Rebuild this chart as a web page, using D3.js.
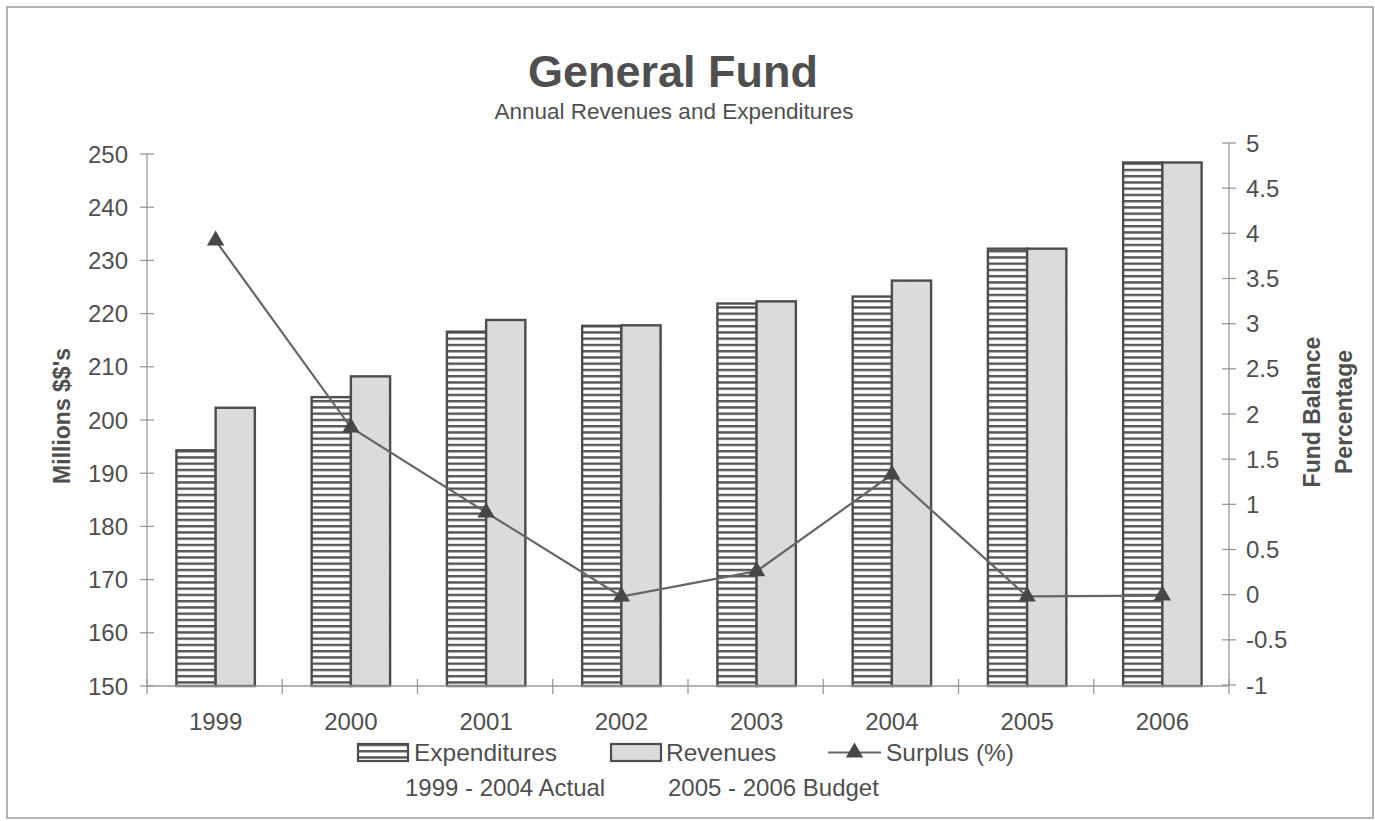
<!DOCTYPE html>
<html>
<head>
<meta charset="utf-8">
<script src="https://cdn.jsdelivr.net/npm/d3@7"></script>
<style>
  html, body { margin: 0; padding: 0; background: #fff; }
  svg { display: block; font-family: "Liberation Sans", Arial, sans-serif; }
</style>
</head>
<body>
<svg id="chart" width="1375" height="821"></svg>
<script>
// General Fund: annual revenues and expenditures (millions) with surplus percentage
const years = ["1999", "2000", "2001", "2002", "2003", "2004", "2005", "2006"];
const expenditures = [194.3, 204.3, 216.6, 217.7, 221.9, 223.2, 232.2, 248.4];
const revenues = [202.3, 208.2, 218.8, 217.8, 222.3, 226.2, 232.2, 248.4];
const surplus = [3.92, 1.85, 0.91, -0.02, 0.26, 1.33, -0.02, -0.01];
const leftTicks = [150, 160, 170, 180, 190, 200, 210, 220, 230, 240, 250];
const rightTicks = [-1, -0.5, 0, 0.5, 1, 1.5, 2, 2.5, 3, 3.5, 4, 4.5, 5];

const ink = "#4f4f4f";
const axisColor = "#9a9a9a";
const barEdge = "#4d4d4d";
const svg = d3.select("#chart");

// frame
svg.append("rect").attr("x", 7).attr("y", 7).attr("width", 1366).attr("height", 811)
  .attr("fill", "#fff").attr("stroke", "#9a9a9a").attr("stroke-width", 1.5);

// patterns
const defs = svg.append("defs");
const hatch = defs.append("pattern").attr("id", "hatch")
  .attr("patternUnits", "userSpaceOnUse").attr("width", 10).attr("height", 6.25);
hatch.append("rect").attr("width", 10).attr("height", 6.25).attr("fill", "#fff");
hatch.append("rect").attr("y", 0).attr("width", 10).attr("height", 2.4).attr("fill", "#555");

const grain = defs.append("filter").attr("id", "grain").attr("x", 0).attr("y", 0).attr("width", 1).attr("height", 1);
grain.append("feTurbulence").attr("type", "fractalNoise").attr("baseFrequency", 0.9).attr("numOctaves", 1).attr("seed", 3).attr("result", "n");
grain.append("feColorMatrix").attr("in", "n").attr("type", "matrix")
  .attr("values", "0 0 0 0 0.8  0 0 0 0 0.8  0 0 0 0 0.8  0 0 0 0.35 0").attr("result", "g");
grain.append("feComposite").attr("in", "g").attr("in2", "SourceGraphic").attr("operator", "in").attr("result", "gc");
const gm = grain.append("feMerge");
gm.append("feMergeNode").attr("in", "SourceGraphic");
gm.append("feMergeNode").attr("in", "gc");

// scales
const plotLeft = 147, plotRight = 1229;
const x = d3.scaleBand().domain(years).range([plotLeft, plotRight]).padding(0);
const groupW = x.bandwidth() * 0.58;
const xSub = d3.scaleBand().domain(["exp", "rev"]).range([0, groupW]).padding(0);
const yL = d3.scaleLinear().domain([150, 250]).range([686, 154]);
const yR = d3.scaleLinear().domain([-1, 5]).range([685, 143]);

// title
svg.append("text").attr("x", 673).attr("y", 87).attr("text-anchor", "middle")
  .attr("font-size", 45).attr("font-weight", "bold").attr("fill", ink).text("General Fund");
svg.append("text").attr("x", 674).attr("y", 119).attr("text-anchor", "middle")
  .attr("font-size", 22.5).attr("fill", ink).text("Annual Revenues and Expenditures");

// bars
const groups = svg.append("g").selectAll("g").data(years).join("g")
  .attr("transform", d => `translate(${x(d) + (x.bandwidth() - groupW) / 2 + 1},0)`);
groups.append("rect")
  .attr("x", xSub("exp")).attr("width", xSub.bandwidth())
  .attr("y", (d, i) => yL(expenditures[i])).attr("height", (d, i) => yL(150) - yL(expenditures[i]))
  .attr("fill", "url(#hatch)").attr("stroke", barEdge).attr("stroke-width", 2.4);
groups.append("rect")
  .attr("x", xSub("rev")).attr("width", xSub.bandwidth())
  .attr("y", (d, i) => yL(revenues[i])).attr("height", (d, i) => yL(150) - yL(revenues[i]))
  .attr("fill", "#d9d9d9").attr("filter", "url(#grain)");
groups.append("rect")
  .attr("x", xSub("rev")).attr("width", xSub.bandwidth())
  .attr("y", (d, i) => yL(revenues[i])).attr("height", (d, i) => yL(150) - yL(revenues[i]))
  .attr("fill", "none").attr("stroke", barEdge).attr("stroke-width", 2.4);

// axes
const axG = svg.append("g").attr("stroke", axisColor).attr("stroke-width", 1.3);
axG.append("line").attr("x1", plotLeft).attr("x2", plotLeft).attr("y1", yL(250)).attr("y2", yL(150));
axG.append("line").attr("x1", plotRight).attr("x2", plotRight).attr("y1", yR(5)).attr("y2", yR(-1));
axG.append("line").attr("x1", plotLeft).attr("x2", plotRight).attr("y1", yL(150)).attr("y2", yL(150));
axG.selectAll(".lt").data(leftTicks).join("line")
  .attr("x1", plotLeft - 7).attr("x2", plotLeft + 7).attr("y1", d => yL(d)).attr("y2", d => yL(d));
axG.selectAll(".rt").data(rightTicks).join("line")
  .attr("x1", plotRight - 7).attr("x2", plotRight + 7).attr("y1", d => yR(d)).attr("y2", d => yR(d));
const bounds = years.map(d => x(d)).concat([plotRight]);
axG.selectAll(".xt").data(bounds).join("line")
  .attr("x1", d => d).attr("x2", d => d).attr("y1", yL(150) - 7).attr("y2", yL(150) + 8);

// tick labels
svg.append("g").selectAll("text").data(leftTicks).join("text")
  .attr("x", 128).attr("y", d => yL(d)).attr("dy", "0.36em").attr("text-anchor", "end")
  .attr("font-size", 24).attr("fill", ink).text(d => d);
svg.append("g").selectAll("text").data(rightTicks).join("text")
  .attr("x", 1246).attr("y", d => yR(d)).attr("dy", "0.36em").attr("text-anchor", "start")
  .attr("font-size", 24).attr("fill", ink).text(d => d);
svg.append("g").selectAll("text").data(years).join("text")
  .attr("x", d => x(d) + x.bandwidth() / 2 + 1).attr("y", 730).attr("text-anchor", "middle")
  .attr("font-size", 24).attr("fill", ink).text(d => d);

// axis titles
svg.append("text").attr("transform", "translate(70,416) rotate(-90)").attr("text-anchor", "middle")
  .attr("font-size", 23).attr("font-weight", "bold").attr("fill", ink).text("Millions $$'s");
svg.append("text").attr("transform", "translate(1320,412) rotate(-90)").attr("text-anchor", "middle")
  .attr("font-size", 23).attr("font-weight", "bold").attr("fill", ink).text("Fund Balance");
svg.append("text").attr("transform", "translate(1352,412) rotate(-90)").attr("text-anchor", "middle")
  .attr("font-size", 23).attr("font-weight", "bold").attr("fill", ink).text("Percentage");

// surplus line
const cx = d => x(d) + x.bandwidth() / 2 + 1;
const line = d3.line().x((d, i) => cx(years[i])).y(d => yR(d));
svg.append("path").datum(surplus).attr("d", line).attr("fill", "none")
  .attr("stroke", "#666").attr("stroke-width", 2.2);
const tri = d3.symbol().type(d3.symbolTriangle).size(130);
svg.append("g").selectAll("path").data(surplus).join("path")
  .attr("d", tri).attr("transform", (d, i) => `translate(${cx(years[i])},${yR(d)})`)
  .attr("fill", "#474747");

// legend
const lg = svg.append("g");
lg.append("rect").attr("x", 358).attr("y", 744).attr("width", 50).attr("height", 17)
  .attr("fill", "url(#hatch)").attr("stroke", barEdge).attr("stroke-width", 2.2);
lg.append("text").attr("x", 414).attr("y", 761).attr("font-size", 24.5).attr("fill", ink).text("Expenditures");
lg.append("rect").attr("x", 611).attr("y", 744).attr("width", 50).attr("height", 17)
  .attr("fill", "#d9d9d9").attr("filter", "url(#grain)");
lg.append("rect").attr("x", 611).attr("y", 744).attr("width", 50).attr("height", 17)
  .attr("fill", "none").attr("stroke", barEdge).attr("stroke-width", 2.2);
lg.append("text").attr("x", 666).attr("y", 761).attr("font-size", 24.5).attr("fill", ink).text("Revenues");
lg.append("line").attr("x1", 828).attr("x2", 881).attr("y1", 752.5).attr("y2", 752.5)
  .attr("stroke", "#666").attr("stroke-width", 2.2);
lg.append("path").attr("d", tri).attr("transform", "translate(854.5,752.5)").attr("fill", "#474747");
lg.append("text").attr("x", 886).attr("y", 761).attr("font-size", 24.5).attr("fill", ink).text("Surplus (%)");

svg.append("text").attr("x", 405).attr("y", 796).attr("font-size", 24).attr("fill", ink).text("1999 - 2004 Actual");
svg.append("text").attr("x", 668).attr("y", 796).attr("font-size", 24).attr("fill", ink).text("2005 - 2006 Budget");
</script>
</body>
</html>
